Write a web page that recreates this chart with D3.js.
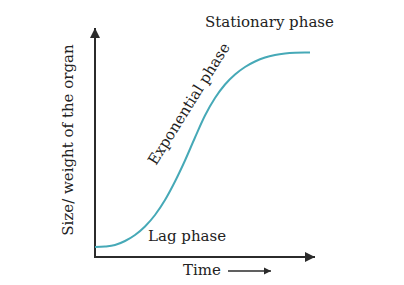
<!DOCTYPE html>
<html><head><meta charset="utf-8">
<script src="https://cdn.jsdelivr.net/npm/d3@7"></script>
<style>body{margin:0;background:#fff}svg{display:block}</style>
</head><body>
<svg id="c" width="404" height="285"></svg>
<script>
const time = [0,1,2,3,4,5,6,7,8,9,10,11,12,13,14,15,16,17,18,19,20,21,21.5];
const size = [10,10.5,12,16,22,30.5,42,57,75.5,96.5,119.5,141.5,159,172.5,182.5,190,195.5,199.5,202,203.5,204.3,204.6,204.6];
const labels = {x: "Time", y: "Size/ weight of the organ", lag: "Lag phase", exp: "Exponential phase", stat: "Stationary phase"};

const svg = d3.select("#c");
const x = d3.scaleLinear().domain([0, 22]).range([95, 315]);
const y = d3.scaleLinear().domain([0, 229]).range([257, 28]);
const axisColor = "#2b2b2b";
const font = "DejaVu Serif";

const defs = svg.append("defs");
defs.append("marker").attr("id", "arr").attr("viewBox","0 0 10 10").attr("refX",10).attr("refY",5)
  .attr("markerWidth",5).attr("markerHeight",5).attr("orient","auto").attr("markerUnits","strokeWidth")
  .append("path").attr("d","M0,0L10,5L0,10z").attr("fill",axisColor);

// axes
svg.append("line").attr("x1", x(0)-1).attr("y1", y(0)).attr("x2", x(22)).attr("y2", y(0))
  .attr("stroke", axisColor).attr("stroke-width", 2).attr("marker-end","url(#arr)");
svg.append("line").attr("x1", x(0)).attr("y1", y(0)+1).attr("x2", x(0)).attr("y2", y(229))
  .attr("stroke", axisColor).attr("stroke-width", 2).attr("marker-end","url(#arr)");

// curve
const pts = time.map((t,i)=>[t,size[i]]);
svg.append("path").datum(pts)
  .attr("d", d3.line().x(d=>x(d[0])).y(d=>y(d[1])).curve(d3.curveMonotoneX))
  .attr("fill","none").attr("stroke","#46a9b7").attr("stroke-width",2);

// labels
const txt = (s)=>svg.append("text").text(s).attr("font-family",font).attr("font-size",15).attr("fill","#222");
txt(labels.stat).attr("x", 205).attr("y", 27);
txt(labels.lag).attr("x", 148).attr("y", 241);
txt(labels.x).attr("x", 183).attr("y", 275);
txt(labels.y).attr("text-anchor","middle").attr("transform","translate(73,140) rotate(-90)");
txt(labels.exp).attr("transform","translate(156,166) rotate(-58)");

// time arrow
svg.append("line").attr("x1", 228).attr("y1", 271).attr("x2", 271).attr("y2", 271)
  .attr("stroke", axisColor).attr("stroke-width", 1.5).attr("marker-end","url(#arr)");
</script>
</body></html>
